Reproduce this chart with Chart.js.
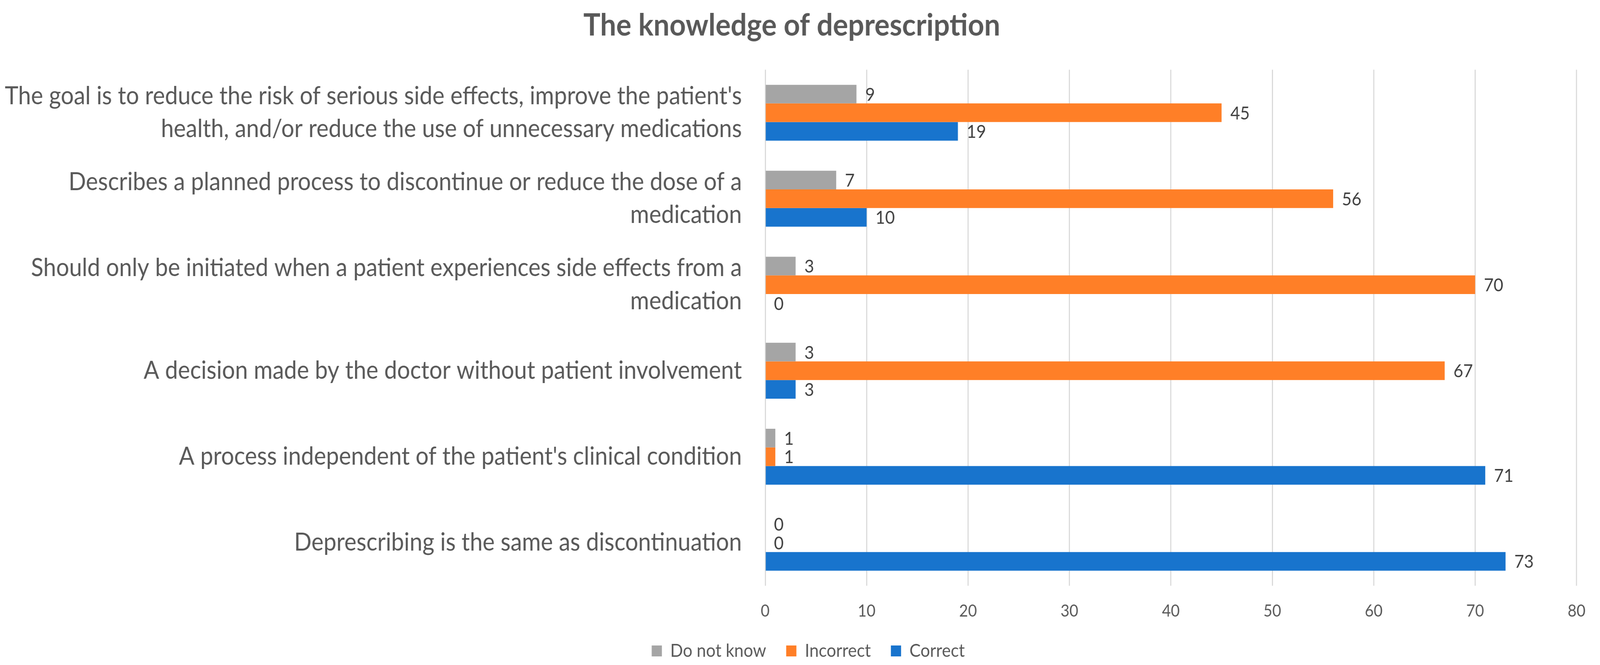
<!DOCTYPE html>
<html>
<head>
<meta charset="utf-8">
<script src="https://cdn.jsdelivr.net/npm/chart.js@4/dist/chart.umd.min.js"></script>
<style>
html,body{margin:0;padding:0;background:#fff;overflow:hidden;}
#wrap{width:4389px;height:1703px;transform-origin:0 0;}
</style>
</head>
<body>
<div id="wrap"><canvas id="c" width="4389" height="1703"></canvas></div>
<script>
const categories = [
  ["The goal is to reduce the risk of serious side effects, improve the patient's", "health, and/or reduce the use of unnecessary medications"],
  ["Describes a planned process to discontinue or reduce the dose of a", "medication"],
  ["Should only be initiated when a patient experiences side effects from a", "medication"],
  "A decision made by the doctor without patient involvement",
  "A process independent of the patient's clinical condition",
  "Deprescribing is the same as discontinuation"
];
const doNotKnow = [9, 7, 3, 3, 1, 0];
const incorrect = [45, 56, 70, 67, 1, 0];
const correct = [19, 10, 0, 3, 71, 73];
const xTicks = [0, 10, 20, 30, 40, 50, 60, 70, 80];
const seriesNames = ["Do not know", "Incorrect", "Correct"];
const chartTitle = "The knowledge of deprescription";

// fit the 4389px-wide drawing into the actual viewport width
(function fitWidth() {
  const s = Math.min(1, window.innerWidth / 4389);
  document.getElementById('wrap').style.transform = 'scaleX(' + s + ')';
})();

const FONT = "Lato";
const TXT = "#595959";

const valueLabels = {
  id: 'valueLabels',
  afterDatasetsDraw(chart) {
    const ctx = chart.ctx;
    ctx.save();
    ctx.font = "46px " + FONT;
    ctx.fillStyle = "#404040";
    ctx.textBaseline = "middle";
    ctx.textAlign = "left";
    chart.data.datasets.forEach((ds, i) => {
      const meta = chart.getDatasetMeta(i);
      meta.data.forEach((el, j) => {
        ctx.fillText(String(ds.data[j]), el.x + 24, el.y + 2);
      });
    });
    ctx.restore();
  }
};

const legendShift = {
  id: 'legendShift',
  afterLayout(chart) {
    if (chart.legend) { chart.legend.left += 45; chart.legend.right += 45; }
  }
};

new Chart(document.getElementById('c'), {
  type: 'bar',
  data: {
    labels: categories,
    datasets: [
      { label: seriesNames[0], data: doNotKnow, backgroundColor: "#A5A5A5" },
      { label: seriesNames[1], data: incorrect, backgroundColor: "#FF7F27" },
      { label: seriesNames[2], data: correct, backgroundColor: "#1874CD" }
    ]
  },
  options: {
    indexAxis: 'y',
    responsive: false,
    animation: false,
    devicePixelRatio: 1,
    categoryPercentage: 0.65,
    barPercentage: 1.0,
    layout: { padding: { top: 10, right: 45, bottom: 3, left: 0 } },
    plugins: {
      title: {
        display: true,
        text: chartTitle,
        color: TXT,
        font: { family: FONT, size: 78, weight: 'bold' },
        padding: { top: 9, bottom: 66 }
      },
      legend: {
        display: true,
        position: 'bottom',
        labels: {
          color: TXT,
          font: { family: FONT, size: 46 },
          boxWidth: 28,
          boxHeight: 28,
          padding: 55
        }
      },
      tooltip: { enabled: false }
    },
    scales: {
      x: {
        min: 0, max: 80,
        afterBuildTicks(scale) { scale.ticks = xTicks.map(v => ({ value: v })); },
        ticks: { color: TXT, font: { family: FONT, size: 42 }, padding: 40 },
        grid: { color: "#D9D9D9", lineWidth: 3, drawTicks: false },
        border: { display: false },
        afterFit(scale) { scale.height = 89; }
      },
      y: {
        ticks: { color: TXT, font: { family: FONT, size: 63, lineHeight: 1.34 }, padding: 64 },
        grid: { display: false, drawTicks: false },
        border: { display: false },
        afterFit(scale) { scale.width = 2099; }
      }
    }
  },
  plugins: [valueLabels, legendShift]
});
</script>
</body>
</html>
